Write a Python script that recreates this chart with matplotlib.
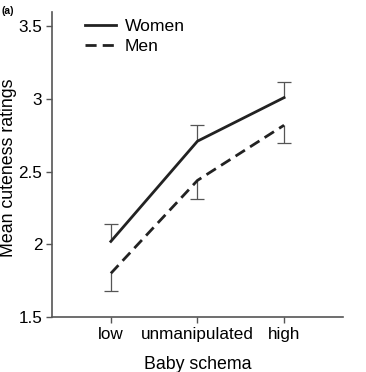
import matplotlib
matplotlib.use("Agg")
import matplotlib.pyplot as plt
import numpy as np

plt.rcParams['font.family'] = ['Liberation Sans', 'DejaVu Sans']

categories = ["low", "unmanipulated", "high"]
women_mean = [2.02, 2.71, 3.01]
women_err = [0.12, 0.11, 0.11]
men_mean = [1.80, 2.44, 2.82]
men_err = [0.12, 0.13, 0.12]

fig = plt.figure(figsize=(3.66, 3.72), dpi=100)
ax = fig.add_axes([0.142, 0.148, 0.795, 0.82])
x = np.arange(1, len(categories) + 1)
lc = '#222222'
ec = '#555555'

# one-sided error bars: women upward, men downward
w_top = np.array(women_mean) + np.array(women_err)
m_bot = np.array(men_mean) - np.array(men_err)
ax.vlines(x, women_mean, w_top, color=ec, lw=0.9)
ax.plot(x, w_top, ls='none', marker='_', ms=10, mew=0.9, color=ec)
ax.vlines(x, m_bot, men_mean, color=ec, lw=0.9)
ax.plot(x, m_bot, ls='none', marker='_', ms=10, mew=0.9, color=ec)

ax.plot(x, women_mean, color=lc, lw=2, label='Women')
ax.plot(x, men_mean, color=lc, lw=2, ls=(0, (4, 2.2)), label='Men')

ax.set_xlim(0.32, 3.68)
ax.set_ylim(1.5, 3.6)
ax.set_xticks(x)
ax.set_xticklabels(categories)
ax.set_yticks([1.5, 2, 2.5, 3, 3.5])
ax.set_yticklabels(['1.5', '2', '2.5', '3', '3.5'])
ax.tick_params(labelsize=12.3, length=4, width=1, color=ec, pad=3)
for s in ['top', 'right']:
    ax.spines[s].set_visible(False)
for s in ['left', 'bottom']:
    ax.spines[s].set_color(ec)
    ax.spines[s].set_linewidth(1.2)

ax.set_xlabel("Baby schema", fontsize=12.8, labelpad=10)
fig.text(0.024, 0.548, "Mean cuteness ratings", fontsize=12.8, rotation=90,
         ha='center', va='center')

ax.legend(loc='upper left', bbox_to_anchor=(0.06, 1.03), frameon=False,
          fontsize=12.6, handlelength=1.75, handletextpad=0.5, labelspacing=0.3)

fig.text(0.005, 0.985, "(a)", fontsize=7.5, fontweight='bold', va='top', ha='left')

fig.savefig("out.png", dpi=100)
